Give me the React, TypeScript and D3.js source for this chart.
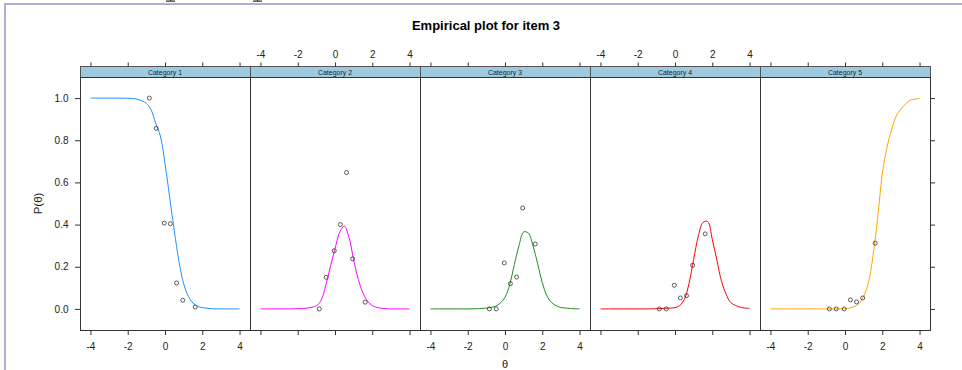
import React, { useEffect, useRef } from 'react'
import * as d3 from 'd3'

// panels
const categories = ['Category 1', 'Category 2', 'Category 3', 'Category 4', 'Category 5']

// model curves at these theta values
const thetaGrid = [-4, -3.5, -3, -2.5, -2, -1.5, -1, -0.75, -0.5, -0.25, 0, 0.25, 0.5, 0.75, 1, 1.25, 1.5, 1.75, 2, 2.25, 2.5, 2.75, 3, 3.5, 4]
const curveCat1 = [1, 1, 1, 1, 0.999, 0.995, 0.975, 0.945, 0.88, 0.82, 0.69, 0.53, 0.37, 0.225, 0.12, 0.06, 0.028, 0.012, 0.006, 0.003, 0.001, 0, 0, 0, 0]
const curveCat2 = [0, 0, 0, 0, 0.001, 0.004, 0.015, 0.04, 0.11, 0.2, 0.285, 0.363, 0.393, 0.34, 0.233, 0.14, 0.076, 0.036, 0.016, 0.007, 0.003, 0.001, 0, 0, 0]
const curveCat3 = [0, 0, 0, 0, 0, 0.001, 0.004, 0.007, 0.013, 0.028, 0.055, 0.115, 0.21, 0.3, 0.365, 0.36, 0.3, 0.215, 0.125, 0.062, 0.03, 0.015, 0.007, 0.002, 0]
const curveCat4 = [0, 0, 0, 0, 0, 0, 0.001, 0.002, 0.003, 0.004, 0.006, 0.016, 0.045, 0.12, 0.235, 0.345, 0.41, 0.415, 0.33, 0.23, 0.13, 0.068, 0.03, 0.008, 0.003]
const curveCat5 = [0, 0, 0, 0, 0, 0, 0, 0, 0, 0, 0.001, 0.004, 0.012, 0.025, 0.06, 0.123, 0.25, 0.43, 0.64, 0.765, 0.85, 0.915, 0.948, 0.99, 0.997]

// empirical proportions
const empiricalTheta = [-0.84, -0.47, -0.04, 0.29, 0.62, 0.95, 1.62]
const empCat1 = [1.0, 0.856, 0.407, 0.404, 0.123, 0.041, 0.009]
const empCat2 = [0, 0.15, 0.276, 0.4, 0.647, 0.238, 0.032]
const empCat3 = [0, 0, 0.218, 0.12, 0.151, 0.479, 0.308]
const empCat4 = [0, 0, 0.112, 0.052, 0.063, 0.207, 0.356]
const empCat5 = [0, 0, 0, 0.043, 0.033, 0.052, 0.312]

const xTicks = [-4, -2, 0, 2, 4]
const yTicks = [0, 0.2, 0.4, 0.6, 0.8, 1.0]

const curveColors = ['#1e90ff', '#ff00ff', '#228b22', '#ff0000', '#ffa500']

const W = 962
const H = 370
const FONT = '"Liberation Sans", Arial, Helvetica, sans-serif'

function EmpiricalPlot() {
  const svgRef = useRef<SVGSVGElement>(null)

  useEffect(() => {
    const svg = d3.select(svgRef.current)
    svg.selectAll('*').remove()

    const curves = [curveCat1, curveCat2, curveCat3, curveCat4, curveCat5]
    const empirical = [empCat1, empCat2, empCat3, empCat4, empCat5]

    const stripTop = 66.5
    const panelTop = 77
    const panelBottom = 330

    const panelX = d3.scaleBand().domain(categories).range([80, 930]).paddingInner(0)
    const bw = panelX.bandwidth()
    const x = d3.scaleLinear().domain([-4.56, 4.56]).range([0, bw])
    const y = d3.scaleLinear().domain([-0.1, 1.1]).range([panelBottom, panelTop])

    svg.append('rect').attr('width', W).attr('height', H).attr('fill', '#fff')

    // lavender frame of the page around it
    svg.append('rect').attr('x', 4).attr('y', 3).attr('width', W - 4).attr('height', 2).attr('fill', '#b9acd4')
    svg.append('rect').attr('x', 4).attr('y', 3).attr('width', 2).attr('height', H - 3).attr('fill', '#b9acd4')
    svg.append('path')
      .attr('d', 'M166,1.2H175M170.5,0V1.2M253,1.2H262M257.5,0V1.2')
      .attr('stroke', '#333').attr('stroke-width', 1.2).attr('fill', 'none')

    // title
    svg.append('text')
      .attr('x', 486).attr('y', 30)
      .attr('text-anchor', 'middle')
      .style('font-family', FONT).style('font-size', '13px').style('font-weight', 'bold')
      .attr('fill', '#000')
      .text('Empirical plot for item 3')

    const line = d3.line<[number, number]>()
      .x(d => x(d[0]))
      .y(d => y(d[1]))
      .curve(d3.curveCatmullRom.alpha(0.5))

    const styleAxis = (g: d3.Selection<SVGGElement, unknown, null, undefined>) => {
      g.select('.domain').remove()
      g.selectAll('line').attr('stroke', '#333')
      g.attr('font-family', FONT).attr('font-size', 10)
      g.selectAll('text').attr('fill', '#222')
    }

    categories.forEach((cat, i) => {
      const x0 = panelX(cat) as number
      const g = svg.append('g').attr('transform', `translate(${x0},0)`)

      // strip
      g.append('rect')
        .attr('x', 0).attr('y', stripTop)
        .attr('width', bw).attr('height', panelTop - stripTop)
        .attr('fill', '#9ecae1').attr('stroke', '#555').attr('stroke-width', 1)
        .attr('shape-rendering', 'crispEdges')
      g.append('text')
        .attr('x', bw / 2).attr('y', 75)
        .attr('text-anchor', 'middle')
        .style('font-family', FONT).style('font-size', '7px')
        .attr('fill', '#222')
        .text(cat)

      // panel box
      g.append('rect')
        .attr('x', 0).attr('y', panelTop)
        .attr('width', bw).attr('height', panelBottom - panelTop)
        .attr('fill', 'none').attr('stroke', '#333').attr('stroke-width', 1)
        .attr('shape-rendering', 'crispEdges')

      // top axis: labels on panels 2 and 4
      const top = g.append('g').attr('transform', `translate(0,${stripTop})`)
        .call(d3.axisTop(x).tickValues(xTicks).tickSize(4).tickPadding(5)
          .tickFormat(d => (i % 2 === 1 ? String(d) : '')))
      styleAxis(top)

      // bottom axis: labels on panels 1, 3, 5
      const bottom = g.append('g').attr('transform', `translate(0,${panelBottom})`)
        .call(d3.axisBottom(x).tickValues(xTicks).tickSize(5).tickPadding(8)
          .tickFormat(d => (i % 2 === 0 ? String(d) : '')))
      styleAxis(bottom)

      if (i === 0) {
        const left = g.append('g')
          .call(d3.axisLeft(y).tickValues(yTicks).tickSize(5).tickPadding(6.5)
            .tickFormat(d => d3.format('.1f')(d as number)))
        styleAxis(left)
      }
      if (i === categories.length - 1) {
        const right = g.append('g').attr('transform', `translate(${bw},0)`)
          .call(d3.axisRight(y).tickValues(yTicks).tickSize(5).tickFormat(() => ''))
        styleAxis(right)
      }

      const pts = thetaGrid.map((t, j) => [t, curves[i][j]] as [number, number])
      g.append('path')
        .datum(pts)
        .attr('d', line)
        .attr('fill', 'none')
        .attr('stroke', curveColors[i])
        .attr('stroke-width', 1)

      g.selectAll('circle.obs')
        .data(empiricalTheta.map((t, j) => [t, empirical[i][j]]))
        .join('circle')
        .attr('class', 'obs')
        .attr('cx', d => x(d[0]))
        .attr('cy', d => y(d[1]))
        .attr('r', 2)
        .attr('fill', 'none')
        .attr('stroke', '#333')
        .attr('stroke-width', 0.8)
    })

    // axis titles
    svg.append('text')
      .attr('x', (80 + 930) / 2).attr('y', 368)
      .attr('text-anchor', 'middle')
      .style('font-family', FONT).style('font-size', '11px')
      .attr('fill', '#222')
      .text('θ')
    svg.append('text')
      .attr('transform', `translate(41.5,${(panelTop + panelBottom) / 2}) rotate(-90)`)
      .attr('text-anchor', 'middle')
      .style('font-family', FONT).style('font-size', '11.5px')
      .attr('fill', '#222')
      .text('P(θ)')
  }, [])

  return (
    <svg ref={svgRef} width={W} height={H}
      style={{ position: 'absolute', left: 0, top: 0, display: 'block' }} />
  )
}

export default function App() {
  return <EmpiricalPlot />
}
